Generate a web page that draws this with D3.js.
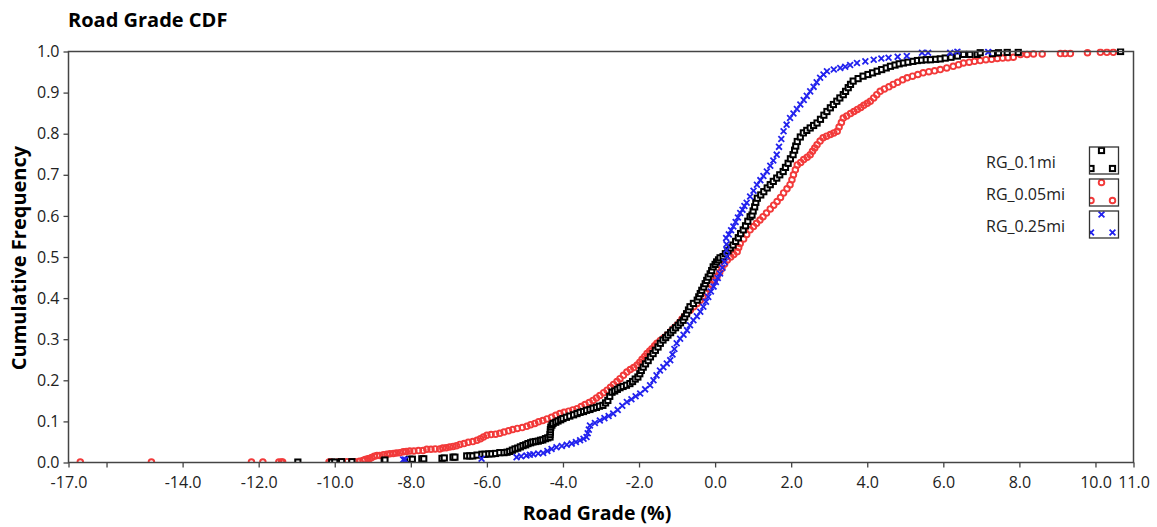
<!DOCTYPE html>
<html><head><meta charset="utf-8">
<script src="https://cdn.jsdelivr.net/npm/d3@7"></script>
<style>body{margin:0;background:#fff}svg{display:block}</style>
</head><body>
<script>
// ---- data (grade %, cumulative frequency) ----
const seriesNames = ["RG_0.1mi", "RG_0.05mi", "RG_0.25mi"];
const xTicks = [-17, -16, -14, -12, -10, -8, -6, -4, -2, 0, 2, 4, 6, 8, 10, 11];
const xTickLabels = ["-17.0", "", "-14.0", "-12.0", "-10.0", "-8.0", "-6.0", "-4.0", "-2.0", "0.0", "2.0", "4.0", "6.0", "8.0", "10.0", "11.0"];
const yTicks = [0, 0.1, 0.2, 0.3, 0.4, 0.5, 0.6, 0.7, 0.8, 0.9, 1.0];

const rg01 = [[-10.97,0.001],[-10.08,0.001],[-10.0,0.001],[-9.82,0.002],[-9.55,0.002],[-8.70,0.004],[-8.68,0.006],[-8.03,0.008],[-7.96,0.008],[-7.71,0.009],[-7.66,0.009],[-7.18,0.010],[-7.12,0.011],[-6.89,0.013],[-6.84,0.013],[-6.53,0.016],[-6.45,0.016],[-6.37,0.016],[-6.26,0.018],[-6.13,0.020],[-6.05,0.020],[-5.95,0.021],[-5.87,0.021],[-5.77,0.022],[-5.66,0.024],[-5.55,0.024],[-5.47,0.025],
[-5.40,0.027],[-5.33,0.030],[-5.26,0.033],[-5.19,0.035],[-5.12,0.038],[-5.05,0.041],[-4.98,0.043],[-4.92,0.046],[-4.85,0.048],[-4.79,0.050],[-4.72,0.051],[-4.65,0.052],[-4.59,0.054],[-4.53,0.055],[-4.46,0.058],[-4.40,0.060],[-4.34,0.062],[-4.34,0.068],[-4.33,0.074],[-4.33,0.080],[-4.32,0.086],[-4.29,0.091],[-4.26,0.095],[-4.19,0.098],[-4.13,0.101],[-4.06,0.104],[-4.0,0.107],[-3.91,0.110],[-3.82,0.113],[-3.72,0.116],[-3.63,0.119],[-3.55,0.122],[-3.46,0.124],[-3.38,0.127],[-3.29,0.129],[-3.21,0.132],[-3.12,0.134],[-3.04,0.137],[-2.95,0.139],[-2.88,0.145],[-2.82,0.151],[-2.77,0.161],[-2.71,0.171],[-2.64,0.174],[-2.57,0.178],[-2.50,0.182],[-2.42,0.185],[-2.33,0.188],[-2.24,0.192],[-2.17,0.197],[-2.10,0.203],[-2.03,0.208],[-1.98,0.216],[-1.94,0.224],[-1.89,0.232],[-1.83,0.240],[-1.76,0.248],[-1.70,0.257],[-1.63,0.265],[-1.57,0.273],[-1.50,0.281],[-1.44,0.290],[-1.37,0.298],[-1.30,0.304],[-1.24,0.310],[-1.17,0.316],[-1.11,0.322],[-1.04,0.328],[-0.97,0.334],[-0.91,0.340],[-0.84,0.346],[-0.80,0.354],[-0.75,0.362],[-0.70,0.371],[-0.66,0.379],[-0.57,0.387],[-0.47,0.395],[-0.43,0.403],[-0.39,0.411],[-0.35,0.419],[-0.30,0.427],[-0.26,0.435],[-0.22,0.443],[-0.18,0.451],[-0.13,0.459],[-0.09,0.467],[-0.05,0.476],[0.0,0.482],[0.04,0.488],[0.09,0.493],[0.13,0.498],[0.21,0.501],[0.27,0.508],[0.34,0.515],[0.40,0.522],[0.47,0.529],[0.54,0.538],[0.61,0.547],[0.67,0.557],[0.74,0.566],[0.80,0.576],[0.86,0.587],[0.92,0.598],[0.97,0.602],[1.00,0.612],[1.04,0.622],[1.07,0.633],[1.11,0.643],[1.20,0.651],[1.28,0.659],[1.37,0.668],[1.45,0.676],[1.53,0.684],[1.62,0.692],[1.70,0.700],[1.79,0.708],[1.85,0.718],[1.92,0.728],[1.98,0.739],[2.05,0.749],[2.09,0.760],[2.12,0.770],[2.16,0.781],[2.24,0.792],[2.32,0.802],[2.41,0.808],[2.50,0.814],[2.59,0.820],[2.68,0.826],[2.77,0.835],[2.86,0.845],[2.94,0.854],[3.03,0.863],[3.11,0.871],[3.20,0.879],[3.28,0.887],[3.37,0.895],[3.43,0.903],[3.50,0.912],[3.56,0.920],[3.63,0.928],[3.76,0.934],[3.89,0.940],[4.02,0.944],[4.14,0.948],[4.26,0.952],[4.38,0.956],[4.50,0.960],[4.61,0.964],[4.73,0.967],[4.84,0.970],[4.95,0.972],[5.07,0.974],[5.20,0.976],[5.32,0.978],[5.43,0.979],[5.55,0.980],[5.66,0.980],[5.80,0.981],[5.92,0.982],[6.05,0.984],[6.20,0.986],[6.37,0.989],[6.53,0.993],[6.70,0.993],[6.89,0.993],[6.97,0.997],[7.29,0.995],[7.45,0.997],[7.68,0.998],[7.97,0.998],[10.66,1.0]];

const rg005 = [[-16.69,0.001],[-14.82,0.001],[-12.19,0.001],[-11.89,0.001],[-11.47,0.001],[-11.40,0.001],[-11.37,0.001],[-10.15,0.001],[-10.10,0.001],[-9.92,0.001],[-9.80,0.002],[-9.68,0.002],[-9.55,0.002],[-9.47,0.002],[-9.35,0.003],[-9.26,0.005],[-9.20,0.007],[-9.13,0.009],[-9.08,0.010],[-9.03,0.012],[-8.96,0.015],[-8.89,0.017],[-8.82,0.017],[-8.72,0.019],[-8.63,0.020],[-8.55,0.021],[-8.46,0.022],[-8.38,0.023],[-8.29,0.024],[-8.20,0.026],[-8.12,0.027],[-8.03,0.028],[-7.92,0.028],[-7.80,0.029],[-7.68,0.029],[-7.58,0.032],[-7.47,0.032],[-7.36,0.033],[-7.24,0.033],[-7.16,0.035],[-7.07,0.036],[-6.98,0.038],[-6.89,0.039],[-6.80,0.041],[-6.71,0.044],[-6.60,0.046],[-6.49,0.049],[-6.37,0.051],[-6.26,0.054],[-6.17,0.058],[-6.09,0.062],[-6.0,0.066],[-5.89,0.068],[-5.77,0.069],[-5.66,0.071],[-5.55,0.074],[-5.43,0.077],[-5.32,0.080],[-5.20,0.083],[-5.07,0.085],[-4.95,0.088],[-4.85,0.092],[-4.74,0.095],[-4.64,0.099],[-4.53,0.102],[-4.42,0.106],[-4.30,0.110],[-4.19,0.115],[-4.08,0.119],[-3.97,0.122],[-3.85,0.125],[-3.74,0.128],[-3.63,0.131],[-3.52,0.136],[-3.42,0.141],[-3.31,0.146],[-3.21,0.151],[-3.12,0.157],[-3.03,0.163],[-2.93,0.170],[-2.84,0.176],[-2.75,0.183],[-2.67,0.190],[-2.58,0.197],[-2.50,0.204],[-2.41,0.212],[-2.32,0.220],[-2.23,0.226],[-2.14,0.231],[-2.05,0.237],[-1.98,0.244],[-1.92,0.251],[-1.85,0.258],[-1.79,0.265],[-1.72,0.271],[-1.66,0.277],[-1.59,0.284],[-1.53,0.290],[-1.44,0.297],[-1.35,0.303],[-1.26,0.310],[-1.17,0.318],[-1.09,0.326],[-1.0,0.334],[-0.93,0.341],[-0.87,0.349],[-0.80,0.356],[-0.74,0.363],[-0.65,0.371],[-0.56,0.379],[-0.47,0.387],[-0.39,0.395],[-0.32,0.404],[-0.25,0.413],[-0.17,0.423],[-0.10,0.433],[-0.02,0.442],[0.05,0.452],[0.12,0.462],[0.18,0.472],[0.25,0.483],[0.32,0.493],[0.41,0.500],[0.49,0.506],[0.58,0.513],[0.62,0.523],[0.66,0.533],[0.75,0.544],[0.83,0.555],[0.92,0.566],[1.01,0.574],[1.09,0.582],[1.18,0.590],[1.26,0.598],[1.35,0.607],[1.45,0.617],[1.54,0.626],[1.63,0.635],[1.72,0.645],[1.80,0.656],[1.89,0.666],[1.97,0.676],[2.02,0.688],[2.06,0.700],[2.11,0.712],[2.16,0.724],[2.25,0.730],[2.33,0.737],[2.42,0.743],[2.50,0.749],[2.56,0.757],[2.62,0.765],[2.68,0.773],[2.76,0.782],[2.84,0.790],[2.93,0.794],[3.03,0.798],[3.12,0.802],[3.21,0.806],[3.26,0.816],[3.32,0.827],[3.37,0.838],[3.46,0.843],[3.56,0.849],[3.65,0.854],[3.74,0.859],[3.83,0.864],[3.91,0.869],[4.0,0.874],[4.08,0.879],[4.17,0.887],[4.25,0.895],[4.34,0.903],[4.45,0.909],[4.57,0.914],[4.68,0.920],[4.80,0.925],[4.93,0.931],[5.05,0.936],[5.19,0.940],[5.33,0.944],[5.47,0.948],[5.62,0.951],[5.77,0.953],[5.92,0.956],[6.09,0.960],[6.26,0.964],[6.40,0.968],[6.53,0.972],[6.68,0.974],[6.82,0.976],[6.97,0.978],[7.12,0.980],[7.27,0.981],[7.42,0.983],[7.56,0.984],[7.70,0.985],[7.84,0.986],[8.03,0.993],[8.20,0.993],[8.37,0.994],[8.60,0.994],[9.08,0.995],[9.20,0.995],[9.34,0.995],[9.79,0.997],[10.13,0.998],[10.30,0.998],[10.47,0.998]];

const rg025 = [[-8.20,0.007],[-8.15,0.007],[-6.14,0.009],[-5.22,0.013],[-5.10,0.015],[-4.96,0.017],[-4.87,0.019],[-4.78,0.020],[-4.65,0.022],[-4.52,0.023],[-4.41,0.028],[-4.30,0.033],[-4.17,0.037],[-4.03,0.040],[-3.90,0.043],[-3.77,0.046],[-3.66,0.050],[-3.55,0.054],[-3.46,0.058],[-3.38,0.062],[-3.35,0.071],[-3.32,0.080],[-3.29,0.090],[-3.16,0.096],[-3.03,0.102],[-2.91,0.108],[-2.80,0.113],[-2.68,0.119],[-2.56,0.128],[-2.44,0.138],[-2.32,0.147],[-2.20,0.154],[-2.09,0.161],[-1.97,0.168],[-1.84,0.178],[-1.71,0.188],[-1.62,0.200],[-1.54,0.212],[-1.45,0.224],[-1.36,0.232],[-1.27,0.241],[-1.18,0.249],[-1.12,0.263],[-1.07,0.276],[-1.01,0.290],[-0.92,0.301],[-0.83,0.311],[-0.74,0.322],[-0.66,0.334],[-0.57,0.346],[-0.48,0.356],[-0.39,0.367],[-0.31,0.379],[-0.24,0.391],[-0.18,0.403],[-0.11,0.416],[-0.04,0.428],[0.02,0.439],[0.07,0.449],[0.13,0.460],[0.19,0.474],[0.25,0.488],[0.31,0.502],[0.30,0.517],[0.30,0.531],[0.29,0.546],[0.36,0.555],[0.42,0.565],[0.48,0.574],[0.54,0.585],[0.60,0.596],[0.66,0.607],[0.72,0.615],[0.77,0.624],[0.83,0.632],[0.92,0.647],[1.01,0.661],[1.10,0.676],[1.19,0.687],[1.27,0.697],[1.36,0.708],[1.45,0.722],[1.53,0.735],[1.62,0.749],[1.68,0.768],[1.74,0.787],[1.80,0.806],[1.88,0.822],[1.97,0.838],[2.06,0.849],[2.15,0.860],[2.24,0.871],[2.33,0.882],[2.41,0.892],[2.50,0.903],[2.59,0.914],[2.67,0.925],[2.76,0.936],[2.85,0.944],[2.94,0.952],[3.12,0.956],[3.29,0.960],[3.42,0.963],[3.55,0.967],[3.73,0.972],[3.95,0.976],[4.17,0.980],[4.37,0.983],[4.56,0.985],[4.80,0.987],[5.04,0.989],[5.44,0.997],[5.60,0.997],[6.18,0.997],[6.37,1.0],[7.18,0.999]];

// ---- layout ----
const W = 1157, H = 527;
const mLeft = 68.5, mRight = 1133.5, mTop = 51.5, mBottom = 462.5;
const FONT = "'Open Sans', 'Noto Sans', sans-serif";
const colors = {"RG_0.1mi": "#000000", "RG_0.05mi": "#f23a3a", "RG_0.25mi": "#2222ee"};

const svg = d3.select("body").append("svg").attr("width", W).attr("height", H)
  .style("font-family", FONT);
svg.append("rect").attr("width", W).attr("height", H).attr("fill", "#fff");

const x = d3.scaleLinear().domain([-17, 11]).range([mLeft, mRight]);
const y = d3.scaleLinear().domain([0, 1]).range([mBottom, mTop]);

// title
svg.append("text").attr("x", 68).attr("y", 27).attr("font-size", 20).attr("font-weight", 700)
  .attr("fill", "#000").text("Road Grade CDF");

// axes
const xAxis = d3.axisBottom(x).tickValues(xTicks).tickSize(5).tickSizeOuter(0)
  .tickFormat((d, i) => xTickLabels[i]);
const gx = svg.append("g").attr("transform", `translate(0,${mBottom})`).call(xAxis);
gx.select(".domain").remove();
gx.selectAll(".tick line").attr("stroke", "#444").attr("stroke-width", 1.3);
gx.selectAll(".tick text").attr("font-size", 16).attr("fill", "#222").attr("y", 14)
  .attr("font-family", FONT);

const yAxis = d3.axisLeft(y).tickValues(yTicks).tickSize(5).tickSizeOuter(0)
  .tickFormat(d3.format(".1f"));
const gy = svg.append("g").attr("transform", `translate(${mLeft},0)`).call(yAxis);
gy.select(".domain").remove();
gy.selectAll(".tick line").attr("stroke", "#444").attr("stroke-width", 1.3);
gy.selectAll(".tick text").attr("font-size", 16).attr("fill", "#222").attr("x", -9)
  .attr("font-family", FONT);

// axis titles
svg.append("text").attr("x", 597).attr("y", 520).attr("text-anchor", "middle")
  .attr("font-size", 19.5).attr("font-weight", 700).text("Road Grade (%)");
svg.append("text").attr("transform", `translate(26,${258}) rotate(-90)`)
  .attr("text-anchor", "middle").attr("font-size", 20).attr("font-weight", 700)
  .text("Cumulative Frequency");

// plot clip
svg.append("clipPath").attr("id", "plotclip").append("rect")
  .attr("x", mLeft).attr("y", mTop - 3).attr("width", mRight - mLeft).attr("height", mBottom - mTop + 3);

// markers
function drawMarker(g, name, cx, cy) {
  const c = colors[name];
  if (name === "RG_0.1mi") {
    g.append("rect").attr("x", cx - 2.6).attr("y", cy - 2.6).attr("width", 5.2).attr("height", 5.2)
      .attr("fill", "#fff").attr("stroke", c).attr("stroke-width", 2);
  } else if (name === "RG_0.05mi") {
    g.append("circle").attr("cx", cx).attr("cy", cy).attr("r", 2.8)
      .attr("fill", "none").attr("stroke", c).attr("stroke-width", 1.9);
  } else {
    const s = 2.9;
    g.append("path").attr("d", `M${cx - s},${cy - s}L${cx + s},${cy + s}M${cx - s},${cy + s}L${cx + s},${cy - s}`)
      .attr("stroke", c).attr("stroke-width", 1.8).attr("fill", "none");
  }
}

const plot = svg.append("g").attr("clip-path", "url(#plotclip)");
const dataMap = {"RG_0.1mi": rg01, "RG_0.05mi": rg005, "RG_0.25mi": rg025};
["RG_0.05mi", "RG_0.1mi", "RG_0.25mi"].forEach(name => {
  const g = plot.append("g");
  dataMap[name].forEach(d => drawMarker(g, name, x(d[0]), y(d[1])));
});

// frame
svg.append("rect").attr("x", mLeft).attr("y", mTop).attr("width", mRight - mLeft).attr("height", mBottom - mTop)
  .attr("fill", "none").attr("stroke", "#444").attr("stroke-width", 1.5);

// legend
const legendY = [162, 194, 226];
seriesNames.forEach((name, i) => {
  const cy = legendY[i];
  svg.append("text").attr("x", 986).attr("y", cy + 6).attr("font-size", 16).attr("fill", "#222")
    .text(name);
  const bx = 1089.5, by = cy - 15, bw = 29, bh = 27;
  const lg = svg.append("g");
  const cid = "lgclip" + i;
  svg.append("clipPath").attr("id", cid).append("rect").attr("x", bx).attr("y", by).attr("width", bw).attr("height", bh);
  const inner = lg.append("g").attr("clip-path", `url(#${cid})`);
  drawMarker(inner, name, bx + 12, by + 3.5);
  drawMarker(inner, name, bx + 1.5, by + 21.5);
  drawMarker(inner, name, bx + 23, by + 21.5);
  lg.append("rect").attr("x", bx).attr("y", by).attr("width", bw).attr("height", bh)
    .attr("fill", "none").attr("stroke", "#333").attr("stroke-width", 1.3);
});
</script>
</body></html>
